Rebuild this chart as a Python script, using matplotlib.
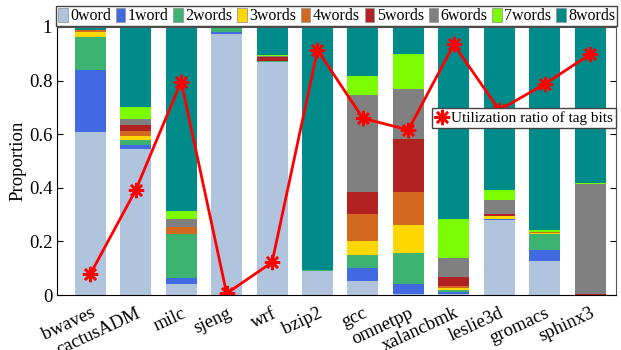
import numpy as np
import matplotlib
matplotlib.use("Agg")
from matplotlib import pyplot as plt

plt.rcParams['font.family'] = ['Liberation Serif', 'DejaVu Serif']

benchmarks = ["bwaves", "cactusADM", "milc", "sjeng", "wrf", "bzip2", "gcc",
              "omnetpp", "xalancbmk", "leslie3d", "gromacs", "sphinx3"]
series_names = ["0word", "1word", "2words", "3words", "4words", "5words",
                "6words", "7words", "8words"]
colors = ["#B0C4DE", "#4169E1", "#3CB371", "#FFD700", "#D2691E", "#B22222",
          "#808080", "#7CFC00", "#008B8B"]

# proportion of each word count per benchmark (8words = rest)
word0 = [0.608, 0.545, 0.040, 0.975, 0.869, 0.090, 0.052, 0.005, 0.005, 0.280, 0.127, 0.000]
word1 = [0.230, 0.015, 0.025, 0.005, 0.000, 0.000, 0.048, 0.035, 0.006, 0.003, 0.041, 0.000]
word2 = [0.125, 0.018, 0.161, 0.016, 0.003, 0.003, 0.049, 0.115, 0.006, 0.002, 0.060, 0.000]
word3 = [0.018, 0.016, 0.002, 0.000, 0.000, 0.000, 0.051, 0.106, 0.008, 0.008, 0.003, 0.000]
word4 = [0.006, 0.018, 0.025, 0.000, 0.002, 0.000, 0.103, 0.122, 0.008, 0.002, 0.004, 0.000]
word5 = [0.003, 0.022, 0.002, 0.000, 0.015, 0.000, 0.082, 0.200, 0.035, 0.007, 0.002, 0.005]
word6 = [0.000, 0.023, 0.029, 0.000, 0.002, 0.000, 0.361, 0.186, 0.072, 0.051, 0.000, 0.410]
word7 = [0.000, 0.043, 0.031, 0.000, 0.006, 0.000, 0.072, 0.129, 0.145, 0.039, 0.005, 0.003]
parts = np.array([word0, word1, word2, word3, word4, word5, word6, word7])
word8 = 1.0 - parts.sum(axis=0)
values = np.vstack([parts, word8])

tag_util = [0.078, 0.392, 0.796, 0.006, 0.122, 0.914, 0.659, 0.616, 0.935, 0.690, 0.787, 0.898]

fig = plt.figure(figsize=(6.21, 3.5), dpi=100)
ax = fig.add_axes([0.092, 0.157, 0.9, 0.766])

x = np.arange(len(benchmarks))
bottom = np.zeros(len(benchmarks))
bars = []
for name, col, vals in zip(series_names, colors, values):
    b = ax.bar(x, vals, 0.68, bottom=bottom, color=col, edgecolor='none', label=name)
    bars.append(b)
    bottom += vals

line, = ax.plot(x, tag_util, color='red', lw=2, marker=(8, 2, 0), markersize=11,
                markeredgewidth=1.8, label="Utilization ratio of tag bits")

ax.set_xlim(-0.73, 11.57)
ax.set_ylim(0, 1)
ax.set_yticks([0, 0.2, 0.4, 0.6, 0.8, 1])
ax.set_yticklabels(["0", "0.2", "0.4", "0.6", "0.8", "1"])
ax.set_xticks(x)
ax.set_xticklabels(benchmarks, rotation=25, ha='right', va='top', rotation_mode='anchor')
ax.tick_params(axis='x', length=0, labelsize=13.5, pad=7)
ax.tick_params(axis='y', direction='in', right=True, labelsize=13.5, length=4)
ax.set_ylabel("Proportion", fontsize=13.5, labelpad=2)
for s in ['top', 'right']:
    ax.spines[s].set_color('#555555')
    ax.spines[s].set_linewidth(0.8)

leg1 = ax.legend(handles=bars, loc='lower left', bbox_to_anchor=(-0.002, 1.003, 1.004, 0.07),
                 mode='expand', ncol=9, fontsize=11.5, handlelength=0.6, handleheight=1.0,
                 handletextpad=0.15, columnspacing=0.2, borderaxespad=0, borderpad=0.12,
                 fancybox=False, edgecolor='#444444', framealpha=1)
for h in leg1.legend_handles:
    h.set_edgecolor('#999999')
    h.set_linewidth(0.6)
ax.add_artist(leg1)
ax.legend(handles=[line], loc='lower left', bbox_to_anchor=(0.67, 0.623), fontsize=11,
          handlelength=0.9, handletextpad=0.2, borderpad=0.2, borderaxespad=0,
          fancybox=False, edgecolor='#444444', framealpha=1)

fig.savefig("out.png", dpi=100)
